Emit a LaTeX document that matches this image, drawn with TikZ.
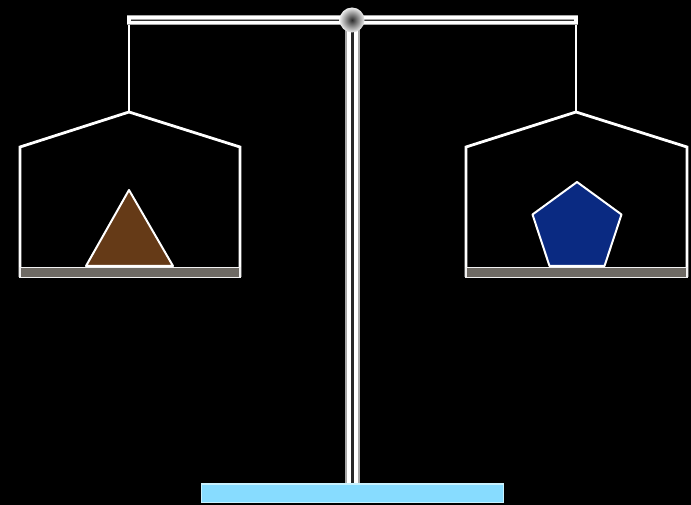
\documentclass[tikz,border=0pt]{standalone}
\usetikzlibrary{shapes.geometric}
\definecolor{traygray}{HTML}{6E6A64}
\definecolor{brownfill}{HTML}{653A17}
\definecolor{bluefill}{HTML}{0A2A82}
\definecolor{basefill}{HTML}{87DCFF}
\definecolor{baseedge}{HTML}{C8F2FF}
\begin{document}
\begin{tikzpicture}[x=1pt,y=-1pt,
  wire/.style={draw=white,line width=2.8pt,line join=miter},
  tray/.style={fill=traygray,draw=white!90!gray,line width=1.6pt},
  weight/.style={draw=white,line width=2pt,line join=round}]
\fill[black] (0,0) rectangle (691,505);
\useasboundingbox (0,0) rectangle (691,505);
% hangers
\draw[wire] (129,22) -- (129,112);
\draw[wire] (576,22) -- (576,112);
% beam (shaded bar)
\fill[gray!70] (127,15.5) rectangle (578,25);
\fill[white] (127,16.5) rectangle (578,19.5);
\fill[gray!40!black] (130,20) rectangle (575,21.5);
\fill[white] (130,21.5) rectangle (578,24);
\fill[white] (127,16.5) rectangle (131,24);
\fill[white] (574,16.5) rectangle (578,24);
% left pan
\draw[wire] (20,277) -- (20,147) -- (129,112) -- (240,147) -- (240,277);
\draw[tray] (20,267.5) rectangle (240,277.5);
\draw[weight,fill=brownfill] (86,266) -- (129,190) -- (173,266) -- cycle;
% right pan
\draw[wire] (466,277) -- (466,147) -- (576,112) -- (687,147) -- (687,277);
\draw[tray] (466,267.5) rectangle (687,277.5);
\draw[weight,fill=bluefill] (577,182) -- (621.5,214.5) -- (604.5,266) -- (549.5,266) -- (532.5,214.5) -- cycle;
% pole
\fill[gray!70] (345,28) rectangle (360,485);
\fill[white] (347,28) rectangle (350.5,485);
\fill[gray!30!black] (350.5,28) rectangle (353.5,485);
\fill[white] (353.5,28) rectangle (357.5,485);
% pivot ball
\shade[inner color=gray!35!black,outer color=white!85!gray] (352,20) circle (12.5);
% base
\draw[fill=basefill,draw=baseedge,line width=1.5pt] (201.5,484) rectangle (503.5,502.5);
\end{tikzpicture}
\end{document}
